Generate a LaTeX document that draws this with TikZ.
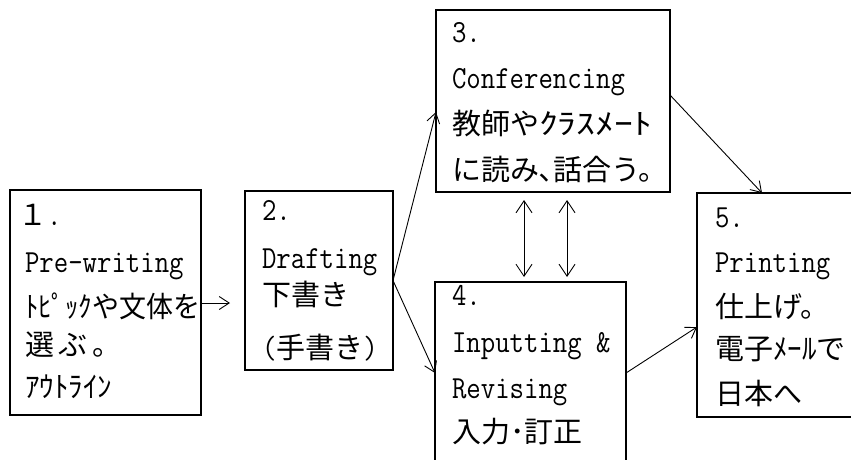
\documentclass[tikz,border=0pt]{standalone}
\usepackage{fontspec}
\newfontfamily\cjfont{Noto Sans CJK JP}
\usetikzlibrary{arrows.meta,calc}
\newcommand\latx[1]{\scalebox{1}[1.15]{\ttfamily\addfontfeatures{FakeBold=2.2}\fontsize{28pt}{30pt}\selectfont #1}}
\newcommand\cjx[1]{{\cjfont\fontsize{29pt}{30pt}\selectfont #1}}
\tikzset{
  box/.style={draw=black, line width=1.2pt, rectangle, inner sep=0pt, outer sep=0pt, anchor=north west},
  txt/.style={inner sep=0pt, outer sep=0pt, anchor=base west, text=black},
  arr/.style={line width=0.9pt, -{Straight Barb[length=10pt,width=13pt]}},
  darr/.style={line width=0.9pt, {Straight Barb[length=12pt,width=16pt]}-{Straight Barb[length=12pt,width=16pt]}}
}
\begin{document}
\begin{tikzpicture}[x=1pt,y=-1pt]
\useasboundingbox (0,0) rectangle (851,459);
\clip (0,0) rectangle (851,459);
\fill[white] (0,0) rectangle (851,459);
% boxes
\node[box, minimum width=191pt, minimum height=225pt] (b1) at (10,190) {};
\node[box, minimum width=148pt, minimum height=179pt] (b2) at (245,191) {};
\node[box, minimum width=234pt, minimum height=182pt] (b3) at (436,10) {};
\node[box, minimum width=191pt, minimum height=195pt] (b4) at (435,282) {};
\node[box, minimum width=175pt, minimum height=224pt] (b5) at (697,193) {};
% box 1 text
\node[txt] (t1a) at (18,225) {\cjx{１}\latx{.}};
\node[txt] (t1b) at (25,272) {\latx{Pre-writing}};
\node[txt] (t1c) at (25,317) {\scalebox{0.93}[1]{\cjx{ﾄﾋﾟｯｸや文体を}}};
\node[txt] (t1d) at (25,355) {\cjx{選\hspace{5pt}ぶ\hspace{5pt}。}};
\node[txt] (t1e) at (25,397) {\cjx{ｱｳﾄﾗｲﾝ}};
% box 2 text
\node[txt] (t2a) at (262,220) {\latx{2.}};
\node[txt] (t2b) at (262,268) {\latx{Drafting}};
\node[txt] (t2c) at (262,305) {\cjx{下書き}};
\node[txt] (t2d) at (262,358) {\latx{(}\cjx{手書き}\latx{)}};
% box 3 text
\node[txt] (t3a) at (452,42) {\latx{3.}};
\node[txt] (t3b) at (452,88) {\latx{Conferencing}};
\node[txt] (t3c) at (452,134) {\cjx{教師や\scalebox{1.3}[1]{ｸﾗｽﾒｰﾄ}}};
\node[txt] (t3d) at (452,180) {\cjx{に読み､話合う。}};
% box 4 text
\node[txt] (t4a) at (452,305) {\latx{4.}};
\node[txt] (t4b) at (452,352) {\latx{Inputting \&}};
\node[txt] (t4c) at (452,398) {\latx{Revising}};
\node[txt] (t4d) at (452,442) {\cjx{入力･訂正}};
% box 5 text
\node[txt] (t5a) at (715,227) {\latx{5.}};
\node[txt] (t5b) at (715,272) {\latx{Printing}};
\node[txt] (t5c) at (715,317) {\cjx{仕上げ。}};
\node[txt] (t5d) at (715,359) {\cjx{電子ﾒｰﾙで}};
\node[txt] (t5e) at (715,404) {\cjx{日本へ}};
% connectors
\coordinate (e12) at (230,303);
\draw[arr] ($(b1.north east)+(0,113)$) -- (e12);
\draw[arr] (b2.east) -- ($(b3.north west)+(0,102)$);
\draw[arr] (b2.east) -- ($(b4.north west)+(0,91)$);
\draw[arr] ($(b4.north east)+(0,91)$) -- ($(b5.north west)+(0,134)$);
\draw[arr] ($(b3.north east)+(0,85)$) -- ($(b5.north west)+(65,0)$);
\draw[darr] ($(b3.south west)+(88,8)$) -- ($(b4.north west)+(89,-5)$);
\draw[darr] ($(b3.south west)+(131,8)$) -- ($(b4.north west)+(132,-5)$);
\end{tikzpicture}
\end{document}
